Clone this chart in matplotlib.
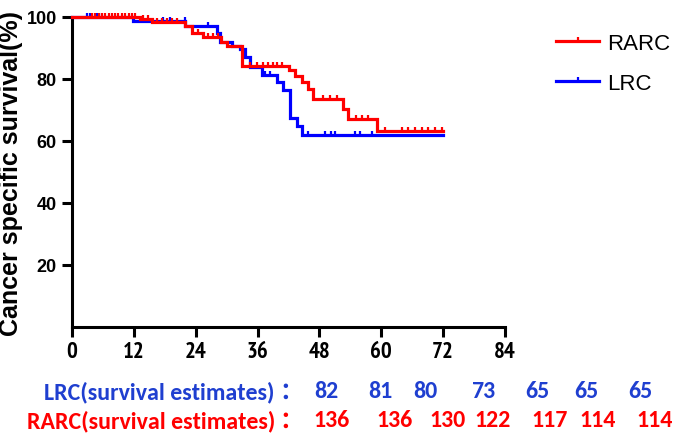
import numpy as np
import matplotlib
matplotlib.use("Agg")
import matplotlib.pyplot as plt
from matplotlib.lines import Line2D
from matplotlib.font_manager import FontProperties

# ---------------- data ----------------
rarc_times = [0, 13.2, 15.5, 21.9, 23.3, 25.5, 29.0, 30.0, 33.0, 42.0, 43.3, 44.6, 45.8, 46.8, 52.5, 53.6, 59.2]
rarc_surv = [100, 99.4, 98.3, 97.0, 95.0, 93.5, 92.0, 90.6, 84.2, 82.8, 81.0, 79.0, 76.8, 73.5, 70.3, 67.0, 63.3]
rarc_censor = [3.8, 4.5, 5.2, 5.8, 6.4, 7.1, 7.7, 8.4, 9.0, 9.7, 10.3, 11.0, 11.6, 12.3,
               13.8, 14.7, 16.5, 17.5, 18.4, 19.4, 20.4, 24.4, 26.4, 27.4, 28.3,
               34.5, 35.9, 37.0, 38.0, 38.9, 39.8, 40.8, 48.7, 50.0, 51.4, 55.0, 56.3, 57.4,
               60.7, 64.0, 65.2, 66.5, 67.9, 69.0, 70.4, 71.8]

lrc_times = [0, 11.8, 22.0, 28.1, 28.7, 31.0, 32.6, 33.6, 34.5, 36.9, 39.8, 40.9, 42.3, 43.6, 44.6]
lrc_surv = [100, 98.8, 97.2, 95.0, 92.0, 90.6, 89.7, 87.0, 84.0, 81.3, 79.0, 76.5, 67.4, 64.7, 62.0]
lrc_censor = [3.0, 3.4, 4.9, 5.3, 17.6, 19.0, 21.9, 26.4, 37.5, 38.4,
              45.8, 49.0, 50.3, 51.0, 54.9, 55.9, 58.2]

end_time = 72
x_ticks = [0, 12, 24, 36, 48, 60, 72, 84]
y_ticks = [20, 40, 60, 80, 100]

lrc_estimates = ["82", "81", "80", "73", "65", "65", "65"]
rarc_estimates = ["136", "136", "130", "122", "117", "114", "114"]
lrc_label = "LRC(survival estimates)"
rarc_label = "RARC(survival estimates)"

RED = "#ff0000"
BLUE = "#0000ff"
TXT_BLUE = "#1f3fd0"

plt.rcParams['font.family'] = ['Liberation Sans', 'DejaVu Sans']

W, H = 685, 435
fig = plt.figure(figsize=(W / 100, H / 100), dpi=100)
ax = fig.add_axes([72 / W, 1 - 328 / H, (505 - 72) / W, (328 - 18) / H])

tick_marker = [(0, 0), (0, 1)]


def step_value(times, surv, t):
    i = np.searchsorted(np.asarray(times), t, side='right') - 1
    return np.asarray(surv)[i]


def draw_curve(times, surv, censor, color, z):
    tt = list(times) + [end_time]
    ss = list(surv) + [surv[-1]]
    ax.step(tt, ss, where='post', color=color, lw=2.3, zorder=z, clip_on=False,
            solid_joinstyle='miter')
    cy = [step_value(times, surv, c) for c in censor]
    ax.plot(censor, cy, linestyle='none', marker=tick_marker, markersize=6,
            markeredgewidth=1.6, color=color, zorder=z, clip_on=False)


draw_curve(lrc_times, lrc_surv, lrc_censor, BLUE, 3)
draw_curve(rarc_times, rarc_surv, rarc_censor, RED, 4)

ax.set_xlim(0, 84)
ax.set_ylim(0, 100)
ax.set_xticks(x_ticks)
ax.set_yticks(y_ticks)
xfp = FontProperties(family=['PT Sans Narrow', 'Liberation Sans'], weight='bold', size=16.5)
ax.set_xticklabels([str(v) for v in x_ticks], fontproperties=xfp)
ax.set_yticklabels([str(v) for v in y_ticks], fontsize=13, fontweight='bold')
for s in ['top', 'right']:
    ax.spines[s].set_visible(False)
for s in ['left', 'bottom']:
    ax.spines[s].set_linewidth(2.2)
ax.tick_params(axis='both', width=2.2, length=7, direction='out')
ax.tick_params(axis='x', pad=3)
ax.tick_params(axis='y', pad=4)

fig.text(11 / W, 1 - 174 / H, "Cancer specific survival(%)", rotation=90,
         ha='center', va='center', fontsize=18, fontweight='bold')

# legend
handles = [Line2D([0], [0], color=RED, lw=2.3, marker=tick_marker, markersize=6, markeredgewidth=1.6),
           Line2D([0], [0], color=BLUE, lw=2.3, marker=tick_marker, markersize=6, markeredgewidth=1.6)]
ax.legend(handles, ["RARC", "LRC"], loc='upper left', bbox_to_anchor=(536 / W, 1 - 14 / H),
          bbox_transform=fig.transFigure, frameon=False, fontsize=16,
          handlelength=1.95, handletextpad=0.35, labelspacing=0.85, numpoints=1)

# survival estimates rows
lrc_x = [326, 380, 425, 483, 537, 586, 640]
rarc_x = [332, 395, 448, 493, 550, 598, 655]
rows = [(lrc_label, lrc_estimates, lrc_x, 392, TXT_BLUE),
        (rarc_label, rarc_estimates, rarc_x, 421, RED)]
fam = ['Carlito', 'Liberation Sans']
for label, vals, xs, yc, col in rows:
    fig.text(275 / W, 1 - yc / H, label, ha='right', va='center', fontsize=17.2,
             color=col, family=fam, fontweight='bold')
    fig.text(291 / W, 1 - yc / H, "：", ha='center', va='center', fontsize=17,
             color=col, family=['Noto Sans CJK SC', 'DejaVu Sans'], fontweight='bold')
    for v, x in zip(vals, xs):
        fig.text(x / W, 1 - yc / H, v, ha='center', va='center', fontsize=17.2,
                 color=col, family=fam, fontweight='bold')

fig.savefig("out.png", dpi=100)
